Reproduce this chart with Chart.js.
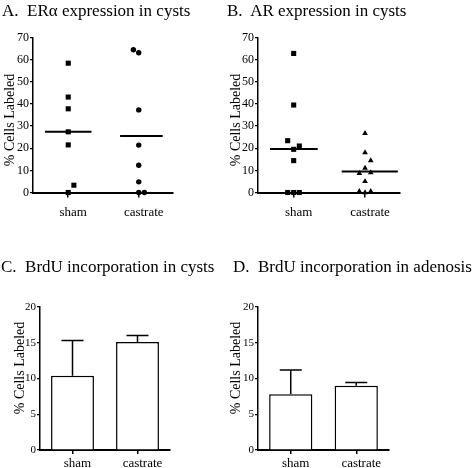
<!DOCTYPE html>
<html>
<head>
<meta charset="utf-8">
<script src="https://cdn.jsdelivr.net/npm/chart.js@4.4.1/dist/chart.umd.min.js"></script>
<style>
    body { margin: 0; background: #fff; overflow: hidden; }
    .page { position: relative; width: 475px; height: 468px; overflow: hidden; background: #fff; }
    .page canvas { position: absolute; }
    .title { position: absolute; font: 17px 'Liberation Serif', 'Times New Roman', serif; line-height: 17px; white-space: pre; color: #000; }
    .ylab { position: absolute; width: 120px; height: 16px; line-height: 16px; text-align: center;
        font: 14px 'Liberation Serif', 'Times New Roman', serif; color: #000; transform: rotate(-90deg); white-space: nowrap; }
</style>
</head>
<body>
<div class="page">
    <canvas id="chartA" width="235" height="234" style="left:0;top:0"></canvas>
    <canvas id="chartB" width="240" height="234" style="left:235px;top:0"></canvas>
    <canvas id="chartC" width="235" height="234" style="left:0;top:234px"></canvas>
    <canvas id="chartD" width="240" height="234" style="left:235px;top:234px"></canvas>

    <div class="title" style="left:2px;top:2px">A.  ERα expression in cysts</div>
    <div class="title" style="left:227px;top:2px">B.  AR expression in cysts</div>
    <div class="title" style="left:1px;top:258px">C.  BrdU incorporation in cysts</div>
    <div class="title" style="left:233px;top:258px">D.  BrdU incorporation in adenosis</div>

    <div class="ylab" style="left:-50px;top:112px">% Cells Labeled</div>
    <div class="ylab" style="left:176px;top:112px">% Cells Labeled</div>
    <div class="ylab" style="left:-40px;top:360px">% Cells Labeled</div>
    <div class="ylab" style="left:176px;top:360px">% Cells Labeled</div>
</div>
<script>
const categories = ['sham', 'castrate']

// A. ER alpha, % cells labeled per cyst
const erSham = [58.4, 43.1, 37.8, 27.4, 21.5, 3.3, 0]
const erCastrate = [64.5, 63.1, 37.3, 21.4, 12.3, 4.8, 0, 0]
const erMeans = [27.4, 25.5]

// B. AR
const arSham = [62.8, 39.5, 23.4, 21.0, 19.5, 14.4, 0, 0, 0]
const arCastrate = [26.7, 18.0, 14.4, 11.0, 8.7, 9.0, 5.0, 0.5, 0.5, 0]
const arMeans = [19.7, 9.5]

// C / D. BrdU bars (mean + SEM)
const brduCysts = [10.4, 15.1]
const brduCystsSem = [4.9, 0.9]
const brduAdenosis = [7.8, 9.0]
const brduAdenosisSem = [3.4, 0.45]

const scatterTicks = [0, 10, 20, 30, 40, 50, 60, 70]
const barTicks = [0, 5, 10, 15, 20]

// horizontal spread of overlapping points (style only)
const jitErSham = [0, 0, 0, 0, 0, 0.08, 0]
const jitErCastrate = [-0.076, 0, 0, 0, 0, 0, 0, 0.08]
const jitArSham = [0, 0, -0.084, 0.079, 0, 0, -0.084, 0, 0.079]
const jitArCastrate = [0, 0, 0.08, 0, -0.08, 0.08, 0, -0.08, 0.08, 0]

Chart.defaults.font.family = "'Liberation Serif', 'Times New Roman', serif"
Chart.defaults.color = '#000'

const toPoints = (vals, cat, jit) => vals.map((v, i) => ({x: cat + jit[i], y: v}))

const meanLine = (m, cat, span) => ({
    data: [{x: cat + span[0], y: m}, {x: cat + span[1], y: m}],
    showLine: true, borderColor: '#000', borderWidth: 2, pointRadius: 0, clip: false
})

function makeScatter(id, groups, means, spans, lay) {
    const datasets = groups.map(g => ({
        data: g.points, pointStyle: g.style, pointRadius: g.r, pointHoverRadius: g.r,
        backgroundColor: '#000', borderColor: '#000', borderWidth: 0, clip: false
    }))
    means.forEach((m, i) => datasets.push(meanLine(m, i + 1, spans[i])))
    return new Chart(document.getElementById(id), {
        type: 'scatter',
        data: {datasets},
        options: {
            responsive: false, animation: false, devicePixelRatio: 1,
            layout: {padding: {left: 0, right: lay.right, top: 37.5, bottom: 11.5}},
            plugins: {legend: {display: false}, tooltip: {enabled: false}},
            scales: {
                x: {
                    type: 'linear', min: 0.5, max: lay.xmax,
                    afterBuildTicks: s => { s.ticks = [{value: 1}, {value: 2}] },
                    afterFit: s => { s.height = 30 },
                    ticks: {callback: v => categories[Math.round(v) - 1], font: {size: 13}, color: '#000',
                        labelOffset: 5, padding: 7, maxRotation: 0, autoSkip: false},
                    grid: {drawOnChartArea: false, tickLength: 5, color: '#000', lineWidth: 1.5},
                    border: {color: '#000', width: 2}
                },
                y: {
                    min: 0, max: 70,
                    afterBuildTicks: s => { s.ticks = scatterTicks.map(v => ({value: v})) },
                    afterFit: s => { s.width = lay.left },
                    ticks: {font: {size: 12}, color: '#000', padding: 1},
                    grid: {drawOnChartArea: false, tickLength: 3, color: '#000', lineWidth: 1.2},
                    border: {color: '#000', width: 1.5}
                }
            }
        }
    })
}

makeScatter('chartA', [
    {points: toPoints(erSham, 1, jitErSham), style: 'rect', r: 3.6},
    {points: toPoints(erCastrate, 2, jitErCastrate), style: 'circle', r: 2.7}
], erMeans, [[-0.33, 0.33], [-0.265, 0.34]], {left: 33, right: 62, xmax: 2.486})

makeScatter('chartB', [
    {points: toPoints(arSham, 1, jitArSham), style: 'rect', r: 3.6},
    {points: toPoints(arCastrate, 2, jitArCastrate), style: 'triangle', r: 3.3}
], arMeans, [[-0.332, 0.337], [-0.327, 0.46]], {left: 23, right: 75, xmax: 2.49})

const errorBars = {
    id: 'errorBars',
    afterDatasetsDraw(chart, args, opts) {
        const ctx = chart.ctx
        const y = chart.scales.y
        const meta = chart.getDatasetMeta(0)
        const vals = chart.data.datasets[0].data
        ctx.save()
        ctx.strokeStyle = '#000'
        ctx.lineWidth = 1.5
        opts.sem.forEach((e, i) => {
            const bar = meta.data[i]
            const top = y.getPixelForValue(vals[i] + e)
            ctx.beginPath()
            ctx.moveTo(bar.x, bar.y)
            ctx.lineTo(bar.x, top)
            ctx.moveTo(bar.x - 11, top)
            ctx.lineTo(bar.x + 11, top)
            ctx.stroke()
        })
        ctx.restore()
    }
}

function makeBars(id, vals, sem, lay) {
    return new Chart(document.getElementById(id), {
        type: 'bar',
        data: {labels: categories, datasets: [{
            data: vals, backgroundColor: '#fff', borderColor: '#000', borderWidth: 1.5,
            barPercentage: 0.66, categoryPercentage: 1
        }]},
        plugins: [errorBars],
        options: {
            responsive: false, animation: false, devicePixelRatio: 1,
            layout: {padding: {left: 0, right: lay.right, top: 73, bottom: 0}},
            plugins: {legend: {display: false}, tooltip: {enabled: false}, errorBars: {sem}},
            scales: {
                x: {
                    // box reaches the canvas bottom so the labels are not clipped
                    afterFit: s => { s.height = 18 },
                    ticks: {font: {size: 13}, color: '#000', labelOffset: 5, padding: 2, maxRotation: 0},
                    grid: {offset: false, drawOnChartArea: false, tickLength: 4, color: '#000', lineWidth: 1.5},
                    border: {color: '#000', width: 2}
                },
                y: {
                    min: 0, max: 20,
                    afterBuildTicks: s => { s.ticks = barTicks.map(v => ({value: v})) },
                    afterFit: s => { s.width = lay.left },
                    ticks: {font: {size: 11}, color: '#000', padding: 1},
                    grid: {drawOnChartArea: false, tickLength: 3, color: '#000', lineWidth: 1.2},
                    border: {color: '#000', width: 1.5}
                }
            }
        }
    })
}

makeBars('chartC', brduCysts, brduCystsSem, {left: 40, right: 65})
makeBars('chartD', brduAdenosis, brduAdenosisSem, {left: 23, right: 86})
</script>
</body>
</html>
